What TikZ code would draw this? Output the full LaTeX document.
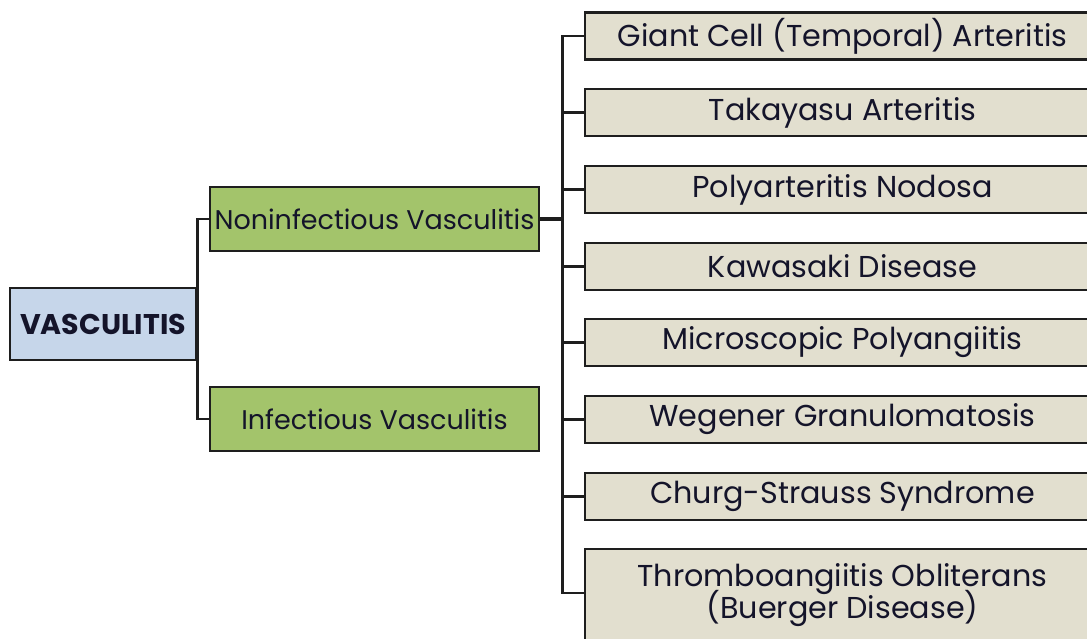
\documentclass[tikz,border=0pt]{standalone}
\usepackage{fontspec}
\setmainfont{Poppins}
\definecolor{bluefill}{HTML}{C6D6EA}
\definecolor{greenfill}{HTML}{A3C46B}
\definecolor{tanfill}{HTML}{E2DFCF}
\definecolor{edge}{HTML}{1E1E1E}
\definecolor{txt}{HTML}{14142A}
\begin{document}
\begin{tikzpicture}[x=1pt,y=-1pt,
  box/.style={draw=edge, line width=2.8pt, inner sep=0pt, text=txt, align=center},
  rootbox/.style={box, fill=bluefill, minimum width=186pt, minimum height=72pt, font=\fontsize{28.5}{32}\selectfont\bfseries},
  midbox/.style={box, fill=greenfill, minimum width=329pt, minimum height=64pt, font=\fontsize{27}{31}\selectfont},
  leafbox/.style={box, fill=tanfill, minimum width=515pt, minimum height=47pt, font=\fontsize{30.2}{31}\selectfont},
  link/.style={draw=edge, line width=2.6pt}]
\useasboundingbox (0,0) rectangle (1087,639);
\clip (0,0) rectangle (1087,639);
\node[rootbox] (vas) at (103,324) {VASCULITIS};
\node[midbox] (non) at (374.5,219) {Noninfectious Vasculitis};
\node[midbox] (inf) at (374.5,419) {Infectious Vasculitis};
\node[leafbox] (r1) at (842.5,36) {Giant Cell (Temporal) Arteritis};
\node[leafbox] (r2) at (842.5,112.5) {Takayasu Arteritis};
\node[leafbox] (r3) at (842.5,189.5) {Polyarteritis Nodosa};
\node[leafbox] (r4) at (842.5,266.5) {Kawasaki Disease};
\node[leafbox] (r5) at (842.5,342.5) {Microscopic Polyangiitis};
\node[leafbox] (r6) at (842.5,419.5) {Wegener Granulomatosis};
\node[leafbox] (r7) at (842.5,496.5) {Churg-Strauss Syndrome};
\node[leafbox, minimum height=92pt] (r8) at (842.5,595) {Thromboangiitis Obliterans\\[-5pt](Buerger Disease)};
\draw[link] (vas.east) |- (non.west);
\draw[link] (vas.east) |- (inf.west);
\draw[link, line width=3.2pt] (non.east) -- ++(22,0) coordinate (bus);
\foreach \r in {r1,r2,r3,r4,r5,r6,r7}
  \draw[link] (bus) |- (\r.west);
\draw[link] (bus) |- ([yshift=2pt]r8.west);
\end{tikzpicture}
\end{document}
